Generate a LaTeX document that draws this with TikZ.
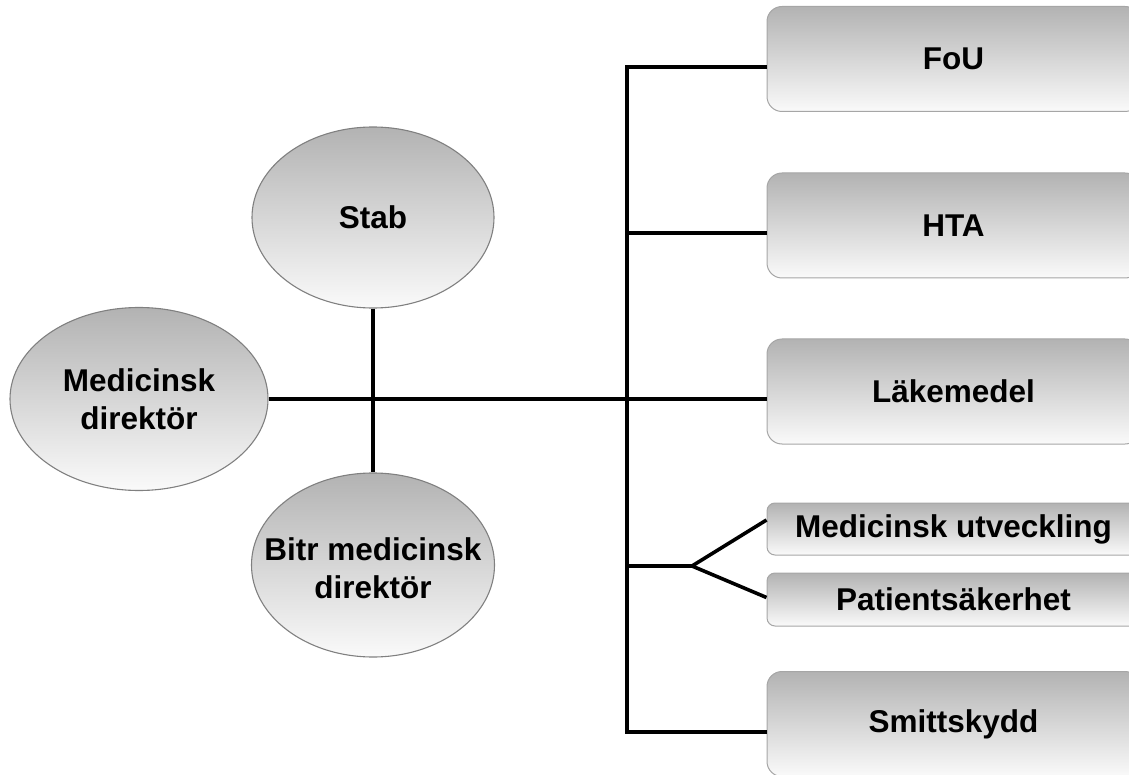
\documentclass[tikz,border=0pt]{standalone}
\usepackage{fontspec}
\setmainfont{Liberation Sans}
\usetikzlibrary{shapes.geometric}
\begin{document}
\begin{tikzpicture}[x=1pt,y=-1pt,
  lbl/.style={font=\bfseries\fontsize{31.5}{38}\selectfont, align=center, inner sep=0pt},
  ell/.style={ellipse, draw=black!50, line width=1.1pt, top color=black!30, bottom color=black!2, inner sep=0pt},
  bigbox/.style={rectangle, rounded corners=15pt, draw=black!35, line width=1pt, top color=black!30, bottom color=black!2,
    minimum width=373pt, minimum height=105pt, inner sep=0pt, font=\bfseries\fontsize{31.5}{38}\selectfont},
  smallbox/.style={bigbox, rounded corners=8pt, minimum height=52pt},
  conn/.style={line width=3.6pt, black}]
\useasboundingbox (0,0) rectangle (1129,775);
\clip (0,0) rectangle (1129,775);
% ellipses
\node[ell, minimum width=242pt, minimum height=181pt] (stab) at (373,217.5) {};
\node[ell, minimum width=258pt, minimum height=183pt] (md) at (139,399) {};
\node[ell, minimum width=243pt, minimum height=184pt] (bitr) at (373,565) {};
\node[lbl] (stabt) at (stab.center) {Stab};
\node[lbl] (mdt) at (md.center) {Medicinsk\\direktör};
\node[lbl] (bitrt) at ([yshift=-3pt]bitr.center) {Bitr medicinsk\\direktör};
% boxes
\node[bigbox] (fou) at (953.5,59) {FoU};
\node[bigbox] (hta) at (953.5,225.5) {HTA};
\node[bigbox] (lak) at (953.5,391.5) {Läkemedel};
\node[smallbox] (mu) at (953.5,529) {Medicinsk utveckling};
\node[smallbox, minimum height=53pt] (ps) at (953.5,599.5) {Patientsäkerhet};
\node[bigbox] (smitt) at (953.5,724) {Smittskydd};
% connector points
\coordinate (t1) at (627,67);
\coordinate (t2) at (627,233);
\coordinate (t4) at (627,566);
\coordinate (t5) at (627,732);
\coordinate (sp) at (692,566);
% connectors
\draw[conn] (stab.south) -- (bitr.north);
\draw[conn] (md.east) -- (md.east -| lak.west);
\draw[conn, line join=miter] (t1 -| fou.west) -- (t1) -- (t5) -- (t5 -| smitt.west);
\draw[conn] (t2) -- (t2 -| hta.west);
\draw[conn] (t4) -- (sp);
\draw[conn] (sp) -- ([yshift=9pt]mu.west);
\draw[conn] (sp) -- ([yshift=2pt]ps.west);
\end{tikzpicture}
\end{document}
